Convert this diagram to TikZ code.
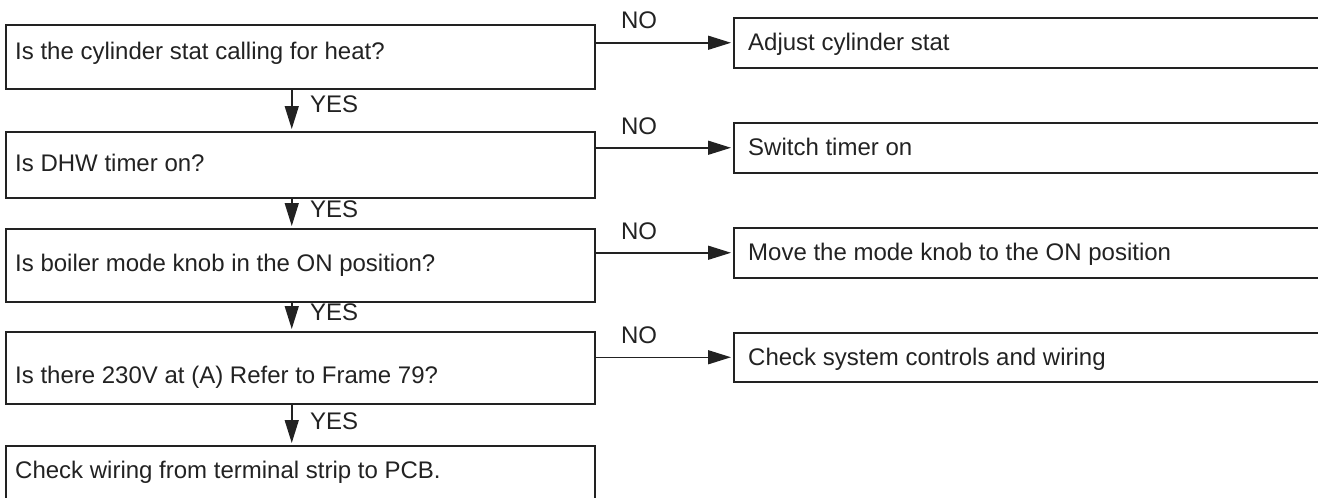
\documentclass[tikz,border=0pt]{standalone}
\usepackage{fontspec}
\setmainfont{Liberation Sans}
\usetikzlibrary{arrows.meta}
\definecolor{ln}{HTML}{222222}
\tikzset{
  lbox/.style={draw=ln, line width=1.5pt, minimum width=589pt, anchor=north west, inner sep=0pt},
  rbox/.style={draw=ln, line width=1.5pt, minimum width=640pt, anchor=north west, inner sep=0pt},
  txt/.style={anchor=base west, inner sep=0pt, text=ln},
  lbl/.style={anchor=base, inner sep=0pt, text=ln},
  arr/.style={draw=ln, line width=1.5pt, -{Triangle[length=23pt,width=14pt]}, shorten >=2pt},
}
\begin{document}
\begin{tikzpicture}[x=1pt,y=-1pt,font=\fontsize{24}{28}\selectfont]
\useasboundingbox (0,0) rectangle (1318,498);
% left boxes
\node[lbox, minimum height=64pt] (q1) at (5,24) {};
\node[lbox, minimum height=66pt] (q2) at (5,131) {};
\node[lbox, minimum height=73pt] (q3) at (5,228) {};
\node[lbox, minimum height=72pt] (q4) at (5,331) {};
\node[lbox, minimum height=80pt] (q5) at (5,445) {};
% right boxes
\node[rbox, minimum height=50pt] (r1) at (733,17) {};
\node[rbox, minimum height=50pt] (r2) at (733,122) {};
\node[rbox, minimum height=50pt] (r3) at (733,227) {};
\node[rbox, minimum height=49pt] (r4) at (733,332) {};
% texts
\node[txt] (t1) at (15,59) {Is the cylinder stat calling for heat?};
\node[txt] (t2) at (15,171) {Is DHW timer on?};
\node[txt] (t3) at (15,271) {Is boiler mode knob in the ON position?};
\node[txt] (t4) at (15,383) {Is there 230V at (A) Refer to Frame 79?};
\node[txt] (t5) at (15,478) {Check wiring from terminal strip to PCB.};
\node[txt] (s1) at (748,50) {Adjust cylinder stat};
\node[txt] (s2) at (748,155) {Switch timer on};
\node[txt] (s3) at (748,260) {Move the mode knob to the ON position};
\node[txt] (s4) at (748,365) {Check system controls and wiring};
% NO arrows
\draw[arr] (q1.east |- r1.west) -- (r1.west);
\draw[arr] (q2.east |- r2.west) -- (r2.west);
\draw[arr] (q3.east |- r3.west) -- (r3.west);
\draw[arr] (q4.east |- r4.west) -- (r4.west);
\node[lbl] (n1) at (639,28) {NO};
\node[lbl] (n2) at (639,134) {NO};
\node[lbl] (n3) at (639,239) {NO};
\node[lbl] (n4) at (639,343) {NO};
% YES arrows
\draw[arr] ([xshift=-8.5pt]q1.south) -- ([xshift=-8.5pt]q2.north);
\draw[arr] ([xshift=-8.5pt]q2.south) -- ([xshift=-8.5pt]q3.north);
\draw[arr] ([xshift=-8.5pt]q3.south) -- ([xshift=-8.5pt]q4.north);
\draw[arr] ([xshift=-8.5pt]q4.south) -- ([xshift=-8.5pt]q5.north);
\node[txt] (y1) at (310,112) {YES};
\node[txt] (y2) at (310,217) {YES};
\node[txt] (y3) at (310,320) {YES};
\node[txt] (y4) at (310,429) {YES};
\end{tikzpicture}
\end{document}
